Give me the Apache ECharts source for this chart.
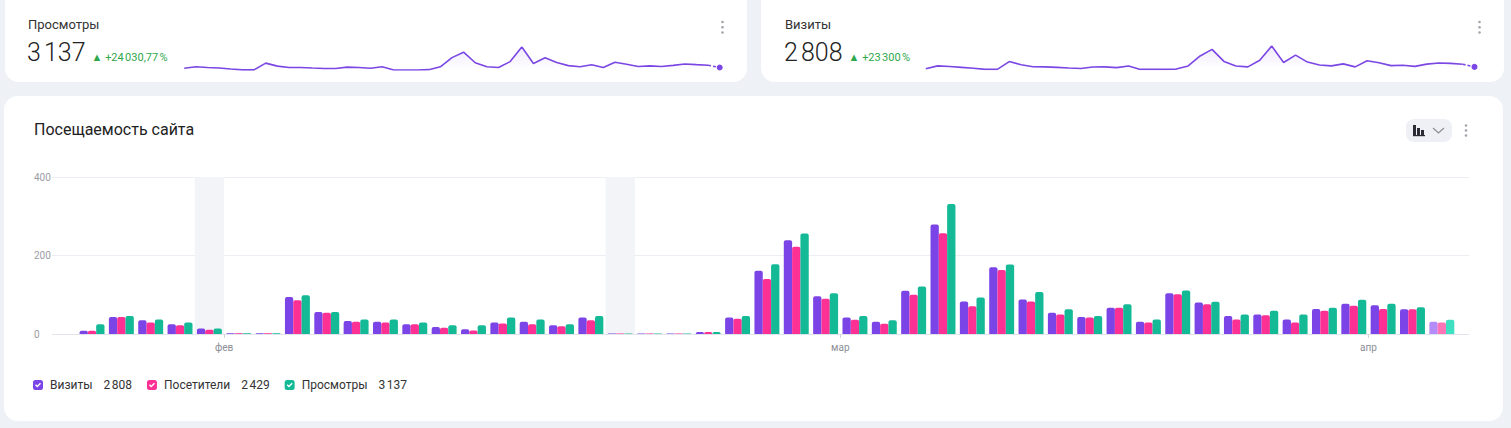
<!DOCTYPE html>
<html lang="ru">
<head>
<meta charset="utf-8">
<title>Посещаемость сайта</title>
<script src="https://cdn.jsdelivr.net/npm/echarts@6/dist/echarts.min.js"></script>
<style>
  html, body { margin: 0; padding: 0; }
  body {
    width: 1511px; height: 428px; position: relative; overflow: hidden;
    background: #eef1f6; color: #222;
    font-family: Roboto, 'Noto Sans', sans-serif;
  }
  .card { position: absolute; background: #fff; border-radius: 14px; }
  .abs { position: absolute; white-space: nowrap; }
  .kpi-label { font-size: 13px; line-height: 16px; color: #333; }
  .kpi-row { display: flex; align-items: baseline; }
  .kpi-value { font-size: 25px; line-height: 30px; font-weight: 300; color: #222; letter-spacing: -0.4px; }
  .kpi-delta { font-size: 11px; color: #2ea84b; margin-left: 6px; }
  .title { font-size: 16px; line-height: 18px; color: #222; }
  .chart { position: absolute; }
</style>
</head>
<body>
<div class="card" style="left:5px; top:-14px; width:742px; height:96px"></div>
<div class="card" style="left:761px; top:-14px; width:743px; height:96px"></div>
<div class="card" style="left:4px; top:96px; width:1499px; height:325px"></div>

<div class="abs kpi-label" style="left:28px; top:17px">Просмотры</div>
<div class="abs kpi-row" style="left:27px; top:38px">
  <span class="kpi-value">3&#8239;137</span><span class="kpi-delta">▲ +24&#8239;030,77&#8239;%</span>
</div>
<div class="abs kpi-label" style="left:785px; top:17px">Визиты</div>
<div class="abs kpi-row" style="left:784px; top:38px">
  <span class="kpi-value">2&#8239;808</span><span class="kpi-delta">▲ +23&#8239;300&#8239;%</span>
</div>
<div class="abs title" style="left:34px; top:121px">Посещаемость сайта</div>

<svg class="abs" style="left:0; top:0" width="1511" height="160">
  <g fill="#a3a5ad">
    <circle cx="722.5" cy="22" r="1.3"/><circle cx="722.5" cy="27.3" r="1.3"/><circle cx="722.5" cy="32.5" r="1.3"/>
    <circle cx="1479.5" cy="22" r="1.3"/><circle cx="1479.5" cy="27.3" r="1.3"/><circle cx="1479.5" cy="32.5" r="1.3"/>
    <circle cx="1466" cy="125.5" r="1.3"/><circle cx="1466" cy="130.5" r="1.3"/><circle cx="1466" cy="135.5" r="1.3"/>
  </g>
  <rect x="1406" y="119" width="46" height="23" rx="8" fill="#eef0f5"/>
  <g fill="#2b2b33">
    <rect x="1413" y="125" width="3" height="10"/>
    <rect x="1417" y="128" width="3" height="7"/>
    <rect x="1421" y="130" width="3" height="5"/>
    <rect x="1413" y="135" width="12" height="1.2"/>
  </g>
  <polyline points="1433,128 1438.5,133 1444,128" fill="none" stroke="#8d8f98" stroke-width="1.2"/>
</svg>

<div id="sparkViews" class="chart" style="left:160px; top:38px; width:570px; height:40px"></div>
<div id="sparkVisits" class="chart" style="left:900px; top:38px; width:590px; height:40px"></div>
<div id="traffic" class="chart" style="left:0; top:150px; width:1511px; height:250px"></div>

<script>
  // values per period; first period has no data
  const visits = [null, 8, 43, 35, 25, 14, 2, 2, 94, 56, 33, 31, 25, 18, 12, 29, 31, 22, 42, 1, 1, 1, 5, 42,
    161, 239, 96, 42, 31, 110, 279, 83, 170, 88, 54, 43, 67, 31, 104, 80, 46, 50, 37, 64, 77, 73, 63, 31];
  const visitors = [null, 8, 43, 29, 22, 11, 2, 2, 86, 54, 31, 29, 25, 16, 9, 27, 25, 20, 35, 1, 1, 1, 5, 39,
    140, 222, 90, 36, 26, 100, 257, 71, 163, 83, 50, 42, 67, 29, 101, 76, 37, 48, 29, 59, 72, 64, 63, 29];
  const views = [null, 25, 46, 37, 29, 14, 2, 2, 99, 56, 37, 37, 29, 22, 22, 42, 37, 25, 46, 1, 1, 1, 5, 46,
    178, 256, 104, 46, 35, 121, 331, 93, 177, 107, 63, 46, 76, 37, 111, 82, 50, 59, 50, 67, 87, 77, 68, 36];

  const periods = visits.map((v, i) => String(i + 1));
  const seriesNames = ['Визиты', 'Посетители', 'Просмотры'];
  const seriesTotals = ['2\u202f808', '2\u202f429', '3\u202f137'];
  const monthLabels = ['фев', 'мар', 'апр'];
  const monthStart = [6, 27, 45];   // period index where the month begins
  const shadedPeriods = [5, 19];
  const yTicks = [0, 200, 400];

  const colors = ['#7b44e6', '#fc3193', '#14b996'];
  const paleColors = ['#b38cf8', '#ff74b6', '#3fe0c2'];
  const font = 'Roboto, "Noto Sans", sans-serif';

  // checkbox icon: rounded square with a check mark cut out
  const checkIcon = 'path://M2.5,0H7.5A2.5,2.5,0,0,1,10,2.5V7.5A2.5,2.5,0,0,1,7.5,10H2.5A2.5,2.5,0,0,1,0,7.5V2.5A2.5,2.5,0,0,1,2.5,0Z' +
    'M2,5.2L4.3,7.5L8,3.8L7,2.8L4.3,5.5L3,4.2Z';

  const last = visits.length - 1;
  const boundaries = Array.from({ length: periods.length + 1 }, (_, i) => {
    const k = monthStart.indexOf(i);
    return k >= 0 ? monthLabels[k] : '';
  });
  const isMonthStart = (i) => monthStart.indexOf(i) >= 0;

  function barSeries(name, data, idx) {
    return {
      name: name,
      type: 'bar',
      xAxisIndex: 0,
      yAxisIndex: 0,
      barGap: '0%',
      barCategoryGap: '15%',
      itemStyle: { color: colors[idx], borderRadius: [2, 2, 0, 0] },
      emphasis: { disabled: true },
      data: data.map((v, i) => i === last ? { value: v, itemStyle: { color: paleColors[idx] } } : v)
    };
  }

  const traffic = echarts.init(document.getElementById('traffic'), null, { renderer: 'svg' });
  traffic.setOption({
    animation: false,
    textStyle: { fontFamily: font },
    grid: [
      { left: 48, right: 54.5, top: 27, bottom: 66, outerBoundsMode: 'none' },
      { left: 52, right: 42, top: 27, bottom: 66, outerBoundsMode: 'none' }
    ],
    legend: {
      left: 33,
      top: 229,
      padding: 0,
      itemWidth: 10,
      itemHeight: 10,
      itemGap: 15,
      icon: checkIcon,
      selectedMode: false,
      data: seriesNames,
      formatter: (name) => `{n|${name}}{v|${seriesTotals[seriesNames.indexOf(name)]}}`,
      textStyle: {
        rich: {
          n: { fontSize: 12, color: '#333', fontFamily: font, padding: [0, 0, 0, 2] },
          v: { fontSize: 12, color: '#333', fontFamily: font, padding: [0, 0, 0, 11] }
        }
      }
    },
    xAxis: [
      { gridIndex: 0, type: 'category', data: periods, show: false },
      {
        gridIndex: 0,
        type: 'category',
        position: 'bottom',
        boundaryGap: false,
        data: boundaries,
        axisLine: { show: false },
        axisTick: { show: true, interval: (i) => isMonthStart(i), length: 4, lineStyle: { color: '#d3d5dc' } },
        axisLabel: { interval: (i) => isMonthStart(i), color: '#8c8e96', fontSize: 10, margin: 8 },
        splitLine: { show: false }
      },
      {
        gridIndex: 1,
        type: 'value',
        position: 'bottom',
        min: 0,
        max: 1,
        axisLine: { show: true, lineStyle: { color: '#e2e4eb' } },
        axisTick: { show: false },
        axisLabel: { show: false },
        splitLine: { show: false }
      }
    ],
    yAxis: [
      { gridIndex: 0, type: 'value', min: yTicks[0], max: yTicks[2], interval: yTicks[1], show: false },
      {
        gridIndex: 1,
        type: 'value',
        min: yTicks[0],
        max: yTicks[2],
        interval: yTicks[1],
        axisLine: { show: false },
        axisTick: { show: false },
        axisLabel: { color: '#9a9ca4', fontSize: 10, align: 'left', margin: 18 },
        splitLine: { lineStyle: { color: '#eceef3' } }
      }
    ],
    series: [
      {
        type: 'line',
        xAxisIndex: 1,
        yAxisIndex: 0,
        z: 1,
        silent: true,
        data: boundaries.map(() => null),
        markArea: {
          silent: true,
          itemStyle: { color: '#f3f4f8' },
          data: shadedPeriods.map((i) => [{ xAxis: i }, { xAxis: i + 1 }])
        }
      },
      barSeries(seriesNames[0], visits, 0),
      barSeries(seriesNames[1], visitors, 1),
      barSeries(seriesNames[2], views, 2)
    ]
  });

  function sparkline(id, data, grid) {
    const chart = echarts.init(document.getElementById(id), null, { renderer: 'svg' });
    const lineColor = '#7b47e4';
    chart.setOption({
      animation: false,
      grid: Object.assign({ outerBoundsMode: 'none' }, grid),
      xAxis: { type: 'category', boundaryGap: false, data: periods, show: false },
      yAxis: { type: 'value', min: 0, max: (v) => v.max, show: false },
      series: [
        {
          type: 'line',
          silent: true,
          showSymbol: false,
          lineStyle: { color: lineColor, width: 1.6 },
          areaStyle: {
            color: new echarts.graphic.LinearGradient(0, 0, 0, 1, [
              { offset: 0, color: 'rgba(123,71,228,0.16)' },
              { offset: 1, color: 'rgba(123,71,228,0)' }
            ])
          },
          data: data.map((v, i) => i === last ? null : v)
        },
        {
          type: 'line',
          silent: true,
          symbol: 'circle',
          showSymbol: true,
          symbolSize: (v, p) => p.dataIndex === last ? 6 : 0,
          itemStyle: { color: lineColor },
          lineStyle: { color: lineColor, width: 1.6, type: [3, 2] },
          data: data.map((v, i) => i >= last - 1 ? v : null)
        }
      ]
    });
  }

  sparkline('sparkViews', views, { left: 12.6, right: 10.3, top: 9, bottom: 8 });
  sparkline('sparkVisits', visits, { left: 13.8, right: 15.5, top: 8, bottom: 8.5 });
</script>
</body>
</html>
